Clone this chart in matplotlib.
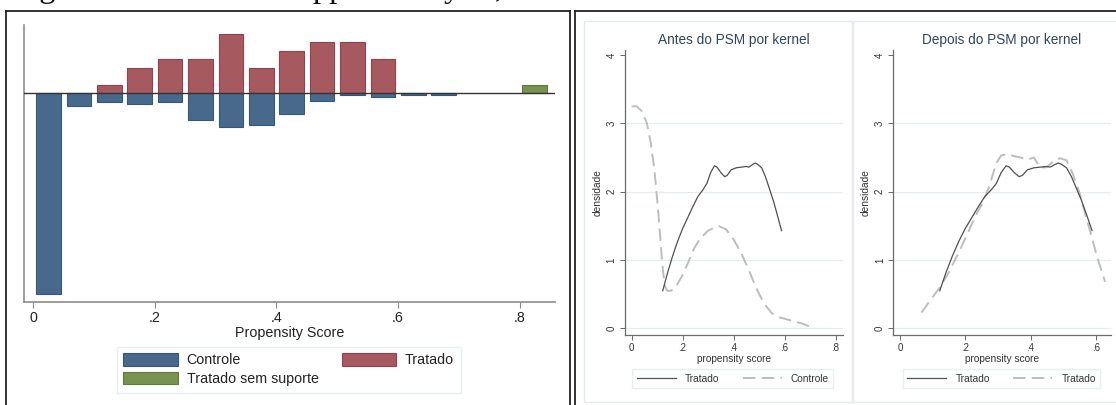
import matplotlib
matplotlib.use("Agg")
import matplotlib.pyplot as plt
from matplotlib.patches import Patch, Rectangle
from matplotlib.lines import Line2D

plt.rcParams['font.family'] = ['Liberation Sans', 'DejaVu Sans']
plt.rcParams['lines.scale_dashes'] = False

W, H = 1116, 405

# ---------------- data: left panel (psgraph) ----------------
bin_centers = [0.025, 0.075, 0.125, 0.175, 0.225, 0.275, 0.325,
               0.375, 0.425, 0.475, 0.525, 0.575, 0.625, 0.675]
controle = [77.4, 5.1, 3.5, 4.2, 3.5, 10.5, 13.1, 12.3, 8.2, 3.3, 1.0, 1.8, 1.0, 1.0]
tratado = [0, 0, 3.0, 9.6, 12.8, 12.8, 22.6, 9.6, 16.1, 19.3, 19.3, 12.8, 0, 0]
sem_suporte_centers = [0.825]
sem_suporte = [3.0]
left_xticks = [0, 0.2, 0.4, 0.6, 0.8]
left_xticklabels = ['0', '.2', '.4', '.6', '.8']

# ---------------- data: kernel densities ----------------
tratado_x = [0.122, 0.14, 0.16, 0.18, 0.20, 0.22, 0.24, 0.26, 0.28, 0.295, 0.31, 0.325,
             0.335, 0.35, 0.365, 0.375, 0.39, 0.41, 0.43, 0.45, 0.46, 0.475, 0.485,
             0.495, 0.51, 0.525, 0.54, 0.555, 0.57, 0.588]
tratado_y = [0.55, 0.80, 1.05, 1.27, 1.46, 1.62, 1.78, 1.93, 2.03, 2.12, 2.28, 2.38,
             2.36, 2.28, 2.22, 2.24, 2.32, 2.35, 2.36, 2.37, 2.36, 2.40, 2.42,
             2.40, 2.35, 2.22, 2.05, 1.88, 1.68, 1.43]

controle_antes_x = [0.0, 0.02, 0.04, 0.06, 0.075, 0.09, 0.105, 0.12, 0.13, 0.14, 0.155,
                    0.175, 0.20, 0.22, 0.245, 0.27, 0.30, 0.34, 0.37, 0.40, 0.43, 0.46,
                    0.49, 0.52, 0.55, 0.58, 0.62, 0.66, 0.697]
controle_antes_y = [3.25, 3.25, 3.18, 3.00, 2.72, 2.30, 1.68, 0.95, 0.62, 0.55, 0.55,
                    0.62, 0.78, 0.95, 1.17, 1.32, 1.43, 1.50, 1.45, 1.30, 1.10, 0.85,
                    0.58, 0.36, 0.22, 0.16, 0.12, 0.08, 0.03]

controle_depois_x = [0.066, 0.09, 0.1225, 0.15, 0.184, 0.21, 0.235, 0.255, 0.275, 0.295,
                     0.31, 0.33, 0.35, 0.37, 0.39, 0.41, 0.43, 0.45, 0.47, 0.49, 0.51,
                     0.53, 0.55, 0.57, 0.587, 0.603, 0.628]
controle_depois_y = [0.23, 0.39, 0.60, 0.82, 1.15, 1.42, 1.68, 1.85, 2.10, 2.42,
                     2.53, 2.55, 2.52, 2.50, 2.47, 2.50, 2.35, 2.36, 2.45, 2.49, 2.46,
                     2.25, 1.98, 1.62, 1.34, 1.05, 0.68]

kd_yticks = [0, 1, 2, 3, 4]
kd_yticklabels = ['0', '1', '2', '3', '4']

BLUE, BLUE_E = '#48698c', '#34587c'
RED, RED_E = '#a65a60', '#943f49'
GREEN, GREEN_E = '#78924f', '#5e7b3d'
DARK = '#505050'
LIGHT = '#bdbdbd'
FRAME_LIGHT = '#e3ecee'


def rect(x0, y0, x1, y1):
    return [x0 / W, 1 - y1 / H, (x1 - x0) / W, (y1 - y0) / H]


def fx(x):
    return x / W


def fy(y):
    return 1 - y / H


fig = plt.figure(figsize=(W / 100, H / 100), dpi=100)

# caption, cut off at the top of the screenshot (only its lowest part shows)
fig.text(fx(12), fy(-3.5), 'Figure 4 \u2013 Common support analysis, after PSM with kernel',
         family=['Liberation Serif', 'DejaVu Serif'], fontsize=23.5, va='baseline', ha='left',
         color='#111')

# panel frames (screenshot boxes)
for xs, ys in [([5.5, 5.5], [11, 406]), ([5.5, 570], [11, 11]), ([570, 570], [11, 406]),
               ([574.5, 574.5], [11, 406]), ([574.5, 1117], [11, 11])]:
    fig.add_artist(Line2D([fx(v) for v in xs], [fy(v) for v in ys], color='#222',
                          lw=1.3, transform=fig.transFigure))

# light graph-region boxes of the two density graphs
for (x0, x1) in [(584.3, 852.0), (852.5, 1118)]:
    fig.add_artist(Rectangle((fx(x0), fy(401.7)), fx(x1) - fx(x0), fy(20.7) - fy(401.7),
                             fill=False, edgecolor=FRAME_LIGHT, lw=1.0,
                             transform=fig.transFigure))

# ---------------- left panel ----------------
ax0 = fig.add_axes(rect(24, 25, 555, 302))
ax0.set_xlim(-0.0156, 0.8584)
ax0.set_ylim(-80.5, 26.0)
bw = 0.0405
tc = [c for c, v in zip(bin_centers, tratado) if v > 0]
tv = [v for v in tratado if v > 0]
ax0.bar(tc, tv, width=bw, color=RED, edgecolor=RED_E, lw=0.8, zorder=2)
ax0.bar(bin_centers, [-v for v in controle], width=bw, color=BLUE, edgecolor=BLUE_E,
        lw=0.8, zorder=2)
ax0.bar(sem_suporte_centers, sem_suporte, width=bw, color=GREEN, edgecolor=GREEN_E,
        lw=0.8, zorder=2)
ax0.axhline(0, color='#333333', lw=1.0, zorder=3)
for s in ['top', 'right']:
    ax0.spines[s].set_visible(False)
for s in ['left', 'bottom']:
    ax0.spines[s].set_color('#8c8c8c')
    ax0.spines[s].set_linewidth(1.2)
ax0.set_yticks([])
ax0.set_xticks(left_xticks)
ax0.set_xticklabels(left_xticklabels)
ax0.tick_params(axis='x', length=4.3, width=0.8, color='#8c8c8c', pad=2.5,
                labelsize=10.3, labelcolor='#222')
ax0.set_xlabel('Propensity Score', fontsize=10.3, color='#222', labelpad=0.5)
ax0.patch.set_alpha(0)

handles = [Patch(facecolor=BLUE, edgecolor=BLUE_E, lw=0.8, label='Controle'),
           Patch(facecolor=GREEN, edgecolor=GREEN_E, lw=0.8, label='Tratado sem suporte'),
           Patch(facecolor=RED, edgecolor=RED_E, lw=0.8, label='Tratado')]
leg = ax0.legend(handles=handles, ncol=2, loc='upper left',
                 bbox_to_anchor=(fx(117), fy(347)), bbox_transform=fig.transFigure,
                 borderaxespad=0, fontsize=10.3, handlelength=3.78, handleheight=0.94,
                 handletextpad=0.63, columnspacing=1.64, labelspacing=0.33,
                 borderpad=0.45, frameon=True, fancybox=False)
leg.get_frame().set_edgecolor(FRAME_LIGHT)
leg.get_frame().set_linewidth(1.0)
for t in leg.get_texts():
    t.set_color('#222')


# ---------------- density panels ----------------
def density_panel(x0, x1, xlim, xticks, xticklabels, title, cx, dashed_x, dashed_y,
                  labels, lx0):
    ax = fig.add_axes(rect(x0, 50, x1, 335))
    ax.set_xlim(*xlim)
    ax.set_ylim(-0.098, 4.075)
    for g in [0, 1, 2, 3]:
        ax.axhline(g, color='#e4eef0', lw=0.9, zorder=0)
    l1, = ax.plot(tratado_x, tratado_y, color=DARK, lw=0.9, zorder=3)
    l2, = ax.plot(dashed_x, dashed_y, color=LIGHT, lw=1.4, dashes=(9, 4.5), zorder=2)
    for s in ['top', 'right']:
        ax.spines[s].set_visible(False)
    for s in ['left', 'bottom']:
        ax.spines[s].set_color('#6a6a6a')
        ax.spines[s].set_linewidth(0.9)
    ax.set_xticks(xticks)
    ax.set_xticklabels(xticklabels)
    ax.set_yticks(kd_yticks)
    ax.set_yticklabels(kd_yticklabels, rotation=90, va='center')
    ax.tick_params(length=3.6, width=0.7, color='#6a6a6a', pad=2.5, labelsize=7,
                   labelcolor='#333')
    ax.set_xlabel('propensity score', fontsize=7.3, color='#333', labelpad=0.5)
    ax.set_ylabel('densidade', fontsize=7.3, color='#333', labelpad=3)
    fig.text(fx(cx), fy(40), title, fontsize=9.8, color='#2f4560', ha='center', va='center')
    lg = ax.legend([l1, l2], labels, ncol=2, loc='upper left',
                   bbox_to_anchor=(fx(lx0), fy(369)), bbox_transform=fig.transFigure,
                   borderaxespad=0, fontsize=7.3, handlelength=3.86, handletextpad=0.9,
                   columnspacing=2.3, borderpad=0.45, frameon=True, fancybox=False)
    lg.get_frame().set_edgecolor(FRAME_LIGHT)
    lg.get_frame().set_linewidth(1.0)
    for t in lg.get_texts():
        t.set_color('#333')
    return ax


density_panel(625, 842.7, (-0.026, 0.828), [0, 0.2, 0.4, 0.6, 0.8],
              ['0', '.2', '.4', '.6', '.8'], 'Antes do PSM por kernel', 733.5,
              controle_antes_x, controle_antes_y, ['Tratado', 'Controle'], 632)
density_panel(893.3, 1110.7, (-0.02, 0.645), [0, 0.2, 0.4, 0.6],
              ['0', '.2', '.4', '.6'], 'Depois do PSM por kernel', 1002,
              controle_depois_x, controle_depois_y, ['Tratado', 'Tratado'], 902.7)

fig.savefig('out.png', dpi=100)
